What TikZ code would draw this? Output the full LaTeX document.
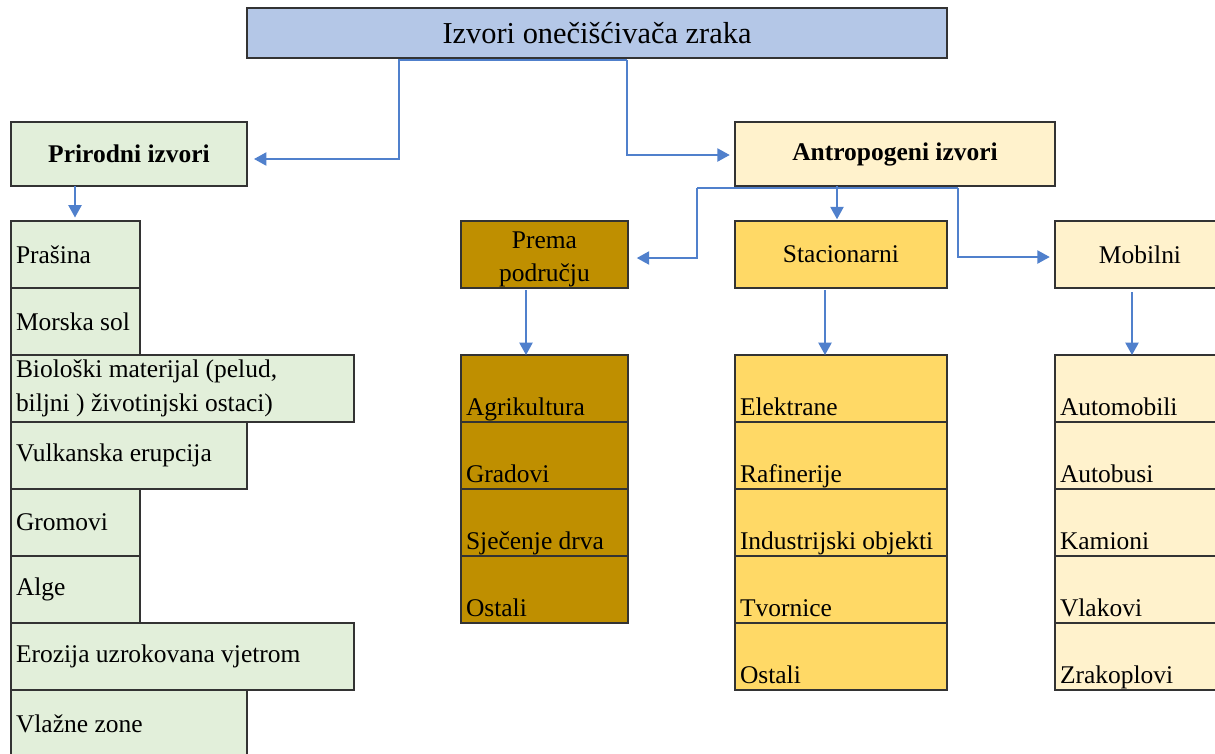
\documentclass[tikz,border=0pt]{standalone}
\usepackage{fontspec}
\setmainfont{Liberation Serif}
\usetikzlibrary{arrows.meta}
\definecolor{titleblue}{HTML}{B4C7E7}
\definecolor{natgreen}{HTML}{E2EFDA}
\definecolor{cream}{HTML}{FFF2CC}
\definecolor{ochre}{HTML}{BF8F00}
\definecolor{gold}{HTML}{FFD966}
\definecolor{linkblue}{HTML}{5080CC}
\tikzset{
  box/.style={draw=black!80, line width=0.7pt, inner sep=0pt, outer sep=0pt},
  head/.style={box, minimum height=1.28cm, font=\fontsize{14.5pt}{17pt}\selectfont\bfseries},
  sub/.style={box, minimum height=1.34cm, font=\fontsize{14.5pt}{18.7pt}\selectfont},
  lrow/.style={box, fill=natgreen, anchor=north west, minimum height=1.34cm, inner xsep=0.1cm, align=flush left, font=\fontsize{14.5pt}{19.3pt}\selectfont},
  mrow/.style={box, anchor=north west, inner xsep=0.1cm, text height=1.2cm, text depth=0.14cm, align=flush left, font=\fontsize{14.5pt}{17pt}\selectfont},
  conn/.style={draw=linkblue, line width=0.85pt},
  arr/.style={conn, -{Triangle[length=7pt,width=7.5pt]}, shorten >=1pt}
}
\begin{document}
\begin{tikzpicture}
	\useasboundingbox (0,0) rectangle (24.3,-15.06);
	% top level
	\node[box, fill=titleblue, minimum width=14cm, minimum height=1cm, font=\fontsize{17.3pt}{20pt}\selectfont] (title) at (11.94,-0.66) {Izvori onečišćivača zraka};
	\node[head, fill=natgreen, minimum width=4.72cm] (prirodni) at (2.58,-3.08) {Prirodni izvori};
	\node[head, fill=cream, minimum width=6.4cm] (antropogeni) at (17.9,-3.08) {Antropogeni izvori};
	\node[sub, fill=ochre, minimum width=3.34cm, text height=1.2cm, text depth=0.14cm] (prema) at (10.89,-5.09) {\parbox[b]{3.14cm}{\centering Prema\\području}};
	\node[sub, fill=gold, minimum width=4.24cm] (stacionarni) at (16.82,-5.09) {Stacionarni};
	\node[sub, fill=cream, minimum width=3.4cm] (mobilni) at (22.8,-5.09) {Mobilni};

	% prirodni izvori
	\node[lrow, text width=2.38cm] (prasina) at (0.22,-4.42) {Prašina};
	\node[lrow, text width=2.38cm] (morska) at (prasina.south west) {Morska sol};
	\node[lrow, text width=6.66cm] (bioloski) at (morska.south west) {Biološki materijal (pelud,\\biljni ) životinjski ostaci)};
	\node[lrow, text width=4.52cm] (vulkanska) at (bioloski.south west) {Vulkanska erupcija};
	\node[lrow, text width=2.38cm] (gromovi) at (vulkanska.south west) {Gromovi};
	\node[lrow, text width=2.38cm] (alge) at (gromovi.south west) {Alge};
	\node[lrow, text width=6.66cm] (erozija) at (alge.south west) {Erozija uzrokovana vjetrom};
	\node[lrow, text width=4.52cm] (vlazne) at (erozija.south west) {Vlažne zone};

	% prema podrucju
	\node[mrow, fill=ochre, text width=3.14cm] (agri) at (9.22,-7.10) {Agrikultura};
	\node[mrow, fill=ochre, text width=3.14cm] (gradovi) at (agri.south west) {Gradovi};
	\node[mrow, fill=ochre, text width=3.14cm] (sjecenje) at (gradovi.south west) {Sječenje drva};
	\node[mrow, fill=ochre, text width=3.14cm] (ostaliP) at (sjecenje.south west) {Ostali};

	% stacionarni
	\node[mrow, fill=gold, text width=4.04cm] (elektrane) at (14.7,-7.10) {Elektrane};
	\node[mrow, fill=gold, text width=4.04cm] (rafinerije) at (elektrane.south west) {Rafinerije};
	\node[mrow, fill=gold, text width=4.04cm] (industrija) at (rafinerije.south west) {Industrijski objekti};
	\node[mrow, fill=gold, text width=4.04cm] (tvornice) at (industrija.south west) {Tvornice};
	\node[mrow, fill=gold, text width=4.04cm] (ostaliS) at (tvornice.south west) {Ostali};

	% mobilni
	\node[mrow, fill=cream, text width=3.2cm] (automobili) at (21.1,-7.10) {Automobili};
	\node[mrow, fill=cream, text width=3.2cm] (autobusi) at (automobili.south west) {Autobusi};
	\node[mrow, fill=cream, text width=3.2cm] (kamioni) at (autobusi.south west) {Kamioni};
	\node[mrow, fill=cream, text width=3.2cm] (vlakovi) at (kamioni.south west) {Vlakovi};
	\node[mrow, fill=cream, text width=3.2cm] (zrakoplovi) at (vlakovi.south west) {Zrakoplovi};

	% connectors
	\coordinate (split) at ([xshift=0.6cm,yshift=-0.04cm]title.south);
	\coordinate (tleft) at ([xshift=-3.96cm,yshift=-0.04cm]title.south);
	\draw[arr, shorten >=4pt] (split) -- (tleft) |- ([yshift=-0.1cm]prirodni.east);
	\draw[arr, shorten >=3pt] (split) |- ([yshift=-0.02cm]antropogeni.west);

	\coordinate (aleft) at ([xshift=-3.96cm,yshift=-0.04cm]antropogeni.south);
	\coordinate (aright) at ([xshift=1.26cm,yshift=-0.04cm]antropogeni.south);
	\draw[conn] (aleft) -- (aright);
	\draw[arr, shorten >=5pt] (aleft) |- ([yshift=-0.07cm]prema.east);
	\draw[arr, shorten >=3pt] (aright) |- ([yshift=-0.05cm]mobilni.west);
	\draw[arr] ([xshift=-1.16cm]antropogeni.south) -- ([xshift=-1.16cm]antropogeni.south |- stacionarni.north);

	\draw[arr, shorten >=2pt] ([xshift=-1.08cm]prirodni.south) -- ([xshift=-1.08cm]prirodni.south |- prasina.north);
	\draw[arr, shorten >=0pt] ([xshift=-0.37cm,yshift=-0.04cm]prema.south) -- ([xshift=-0.37cm]prema.south |- agri.north);
	\draw[arr, shorten >=0pt] ([xshift=-0.32cm,yshift=-0.04cm]stacionarni.south) -- ([xshift=-0.32cm]stacionarni.south |- elektrane.north);
	\draw[arr, shorten >=0pt] ([xshift=-0.16cm,yshift=-0.08cm]mobilni.south) -- ([xshift=-0.16cm]mobilni.south |- automobili.north);
\end{tikzpicture}
\end{document}
